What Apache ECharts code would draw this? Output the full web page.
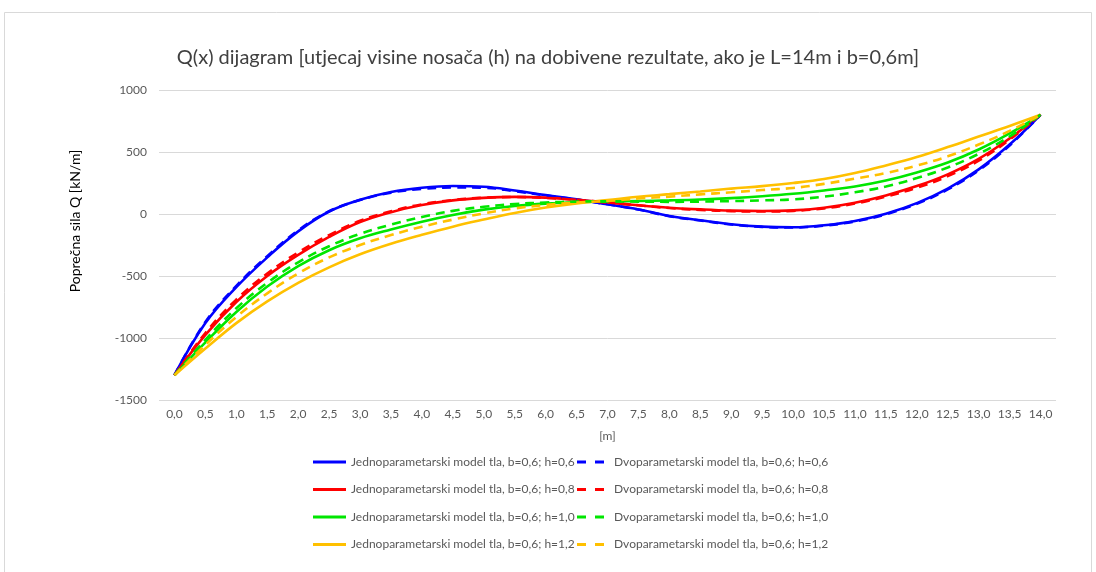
<!DOCTYPE html>
<html>
<head>
<meta charset="utf-8">
<script src="https://cdn.jsdelivr.net/npm/echarts@6/dist/echarts.min.js"></script>
<style>html,body{margin:0;padding:0;background:#fff}#c{width:1096px;height:572px}</style>
</head>
<body>
<div id="c"></div>
<script>
const xLabels = ['0,0','0,5','1,0','1,5','2,0','2,5','3,0','3,5','4,0','4,5','5,0','5,5','6,0','6,5','7,0','7,5','8,0','8,5','9,0','9,5','10,0','10,5','11,0','11,5','12,0','12,5','13,0','13,5','14,0'];

const jedno_h06 = [-1300,-880,-590,-350,-140,20,115,178,212,226,220,190,152,118,78,37,-16,-51,-83,-102,-107,-91,-56,3,88,205,360,560,800];
const jedno_h08 = [-1300,-975,-710,-500,-330,-185,-65,15,72,110,130,138,132,115,92,70,51,37,27,24,29,51,91,150,225,320,445,610,800];
const jedno_h10 = [-1300,-1035,-790,-585,-420,-292,-196,-125,-62,-8,35,65,84,95,100,105,110,117,128,143,163,190,222,270,335,415,520,650,800];
const jedno_h12 = [-1300,-1085,-880,-705,-555,-430,-325,-240,-168,-102,-45,8,52,86,112,139,160,182,205,225,250,282,330,392,460,540,625,710,800];

const dvo_h06 = [-1300,-870,-580,-340,-132,22,112,172,202,214,212,184,150,117,78,36,-18,-53,-85,-104,-109,-94,-60,-2,82,198,352,553,800];
const dvo_h08 = [-1300,-960,-690,-480,-310,-170,-55,22,78,112,131,137,130,114,93,70,48,33,23,20,25,45,84,140,212,305,430,600,800];
const dvo_h10 = [-1300,-1015,-760,-555,-390,-260,-160,-85,-25,25,58,80,93,100,102,100,98,100,104,110,118,140,175,222,290,375,485,625,800];
const dvo_h12 = [-1300,-1055,-830,-640,-480,-350,-250,-170,-103,-45,5,45,73,92,105,125,140,158,175,193,210,243,285,330,390,465,560,670,800];

const solidNames = [
  'Jednoparametarski model tla, b=0,6; h=0,6',
  'Jednoparametarski model tla, b=0,6; h=0,8',
  'Jednoparametarski model tla, b=0,6; h=1,0',
  'Jednoparametarski model tla, b=0,6; h=1,2'
];
const dashNames = [
  'Dvoparametarski model tla, b=0,6; h=0,6',
  'Dvoparametarski model tla, b=0,6; h=0,8',
  'Dvoparametarski model tla, b=0,6; h=1,0',
  'Dvoparametarski model tla, b=0,6; h=1,2'
];
const yAxisTitle = 'Poprečna sila Q [kN/m]';
const colors = ['#0000ff', '#ff0000', '#00e600', '#ffc000'];
const solidData = [jedno_h06, jedno_h08, jedno_h10, jedno_h12];
const dashData = [dvo_h06, dvo_h08, dvo_h10, dvo_h12];

const FONT = 'Lato, "Open Sans", "Liberation Sans", sans-serif';

const series = [];
solidData.forEach((d, i) => series.push({
  name: solidNames[i], type: 'line', data: d, symbol: 'none', smooth: 0.4,
  lineStyle: { color: colors[i], width: 2.6, type: 'solid' },
  itemStyle: { color: colors[i] }, z: 2
}));
dashData.forEach((d, i) => series.push({
  name: dashNames[i], type: 'line', data: d, symbol: 'none', smooth: 0.4,
  lineStyle: { color: colors[i], width: 2.6, type: [9, 6] },
  itemStyle: { color: colors[i] }, z: 3
}));

const chart = echarts.init(document.getElementById('c'), null, { renderer: 'canvas' });
chart.setOption({
  animation: false,
  backgroundColor: '#fff',
  textStyle: { fontFamily: FONT },
  graphic: [{
    type: 'rect', shape: { x: 4.5, y: 12.5, width: 1087, height: 620 },
    style: { fill: 'none', stroke: '#d9d9d9', lineWidth: 1 }, silent: true
  }, {
    type: 'text', x: 75, y: 221, rotation: Math.PI / 2, silent: true,
    style: { text: yAxisTitle, fontFamily: FONT, fontSize: 14, fill: '#000000', align: 'center', verticalAlign: 'middle' }
  }],
  title: {
    text: 'Q(x) dijagram [utjecaj visine nosača (h) na dobivene rezultate, ako je L=14m i b=0,6m]',
    left: 'center', top: 43,
    textStyle: { fontFamily: FONT, fontSize: 20, fontWeight: 'normal', color: '#404040' }
  },
  legend: [{
    data: solidNames.map(n => ({ name: n, icon: 'rect' })),
    orient: 'vertical', left: 313, top: 455, padding: 0,
    itemWidth: 33, itemHeight: 3, itemGap: 13.5, symbolKeepAspect: false,
    textStyle: { fontFamily: FONT, fontSize: 12, lineHeight: 14, color: '#595959' }
  }, {
    data: dashNames.map(n => ({ name: n, icon: 'path://M0,0H9V3H0ZM18,0H27V3H18Z' })),
    orient: 'vertical', left: 577, top: 455, padding: 0,
    itemWidth: 27, itemHeight: 3, itemGap: 13.5, symbolKeepAspect: false,
    textStyle: { fontFamily: FONT, fontSize: 12, lineHeight: 14, color: '#595959', padding: [0, 0, 0, 5] }
  }],
  grid: { left: 159, right: 40, top: 90, bottom: 172, containLabel: false },
  xAxis: {
    type: 'category', data: xLabels, boundaryGap: true,
    name: '[m]', nameLocation: 'middle', nameGap: 30,
    nameTextStyle: { fontFamily: FONT, fontSize: 12, color: '#595959' },
    axisLine: { show: false }, axisTick: { show: false },
    axisLabel: { interval: 0, margin: 8, fontFamily: FONT, fontSize: 12, color: '#595959' }
  },
  yAxis: {
    type: 'value', min: -1500, max: 1000, interval: 500,
    axisLine: { show: false }, axisTick: { show: false },
    axisLabel: { margin: 12, fontFamily: FONT, fontSize: 12, color: '#595959', formatter: v => String(v) },
    splitLine: { lineStyle: { color: '#d9d9d9', width: 1 } }
  },
  series: series
});
</script>
</body>
</html>
